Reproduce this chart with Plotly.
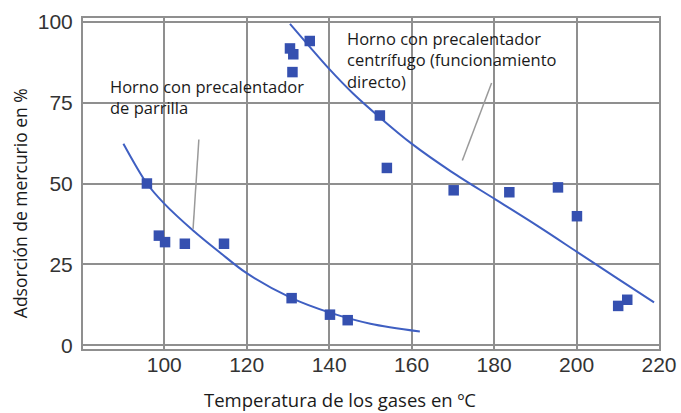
import plotly.graph_objects as go

# Measured points: kiln with grate preheater
parrilla_temp = [95.8, 98.7, 100.2, 105.0, 114.5, 130.9, 140.2, 144.5]
parrilla_ads = [50.0, 33.9, 31.9, 31.4, 31.4, 14.6, 9.5, 7.8]

# Trend curve for the grate-preheater kiln
parrilla_fit_temp = [90.1, 95.8, 100.0, 107.0, 113.5, 120.0, 130.9, 140.0, 150.0, 162.0]
parrilla_fit_ads = [62.3, 50.0, 43.8, 35.5, 28.7, 22.3, 14.6, 10.2, 6.7, 4.3]

# Measured points: kiln with centrifugal preheater (direct operation)
centrifugo_temp = [130.5, 131.3, 131.1, 135.3, 152.3, 154.0, 170.2, 183.7, 195.5, 200.1, 210.1, 212.3]
centrifugo_ads = [91.7, 89.9, 84.4, 94.0, 71.0, 54.8, 47.9, 47.3, 48.8, 39.9, 12.2, 14.1]

# Trend curve for the centrifugal-preheater kiln
centrifugo_fit_temp = [130.5, 135.3, 140.0, 145.8, 152.3, 160.0, 169.7, 180.3, 190.9, 200.1, 209.5, 218.8]
centrifugo_fit_ads = [99.3, 92.2, 85.4, 77.8, 70.4, 62.3, 53.6, 45.1, 36.6, 28.9, 21.0, 13.3]

x_ticks = [100, 120, 140, 160, 180, 200, 220]
y_ticks = [0, 25, 50, 75, 100]

label_parrilla = "Horno con precalentador<br>de parrilla"
label_centrifugo = "Horno con precalentador<br>centrífugo (funcionamiento<br>directo)"
x_title = "Temperatura de los gases en ºC"
y_title = "Adsorción de mercurio en %"

LINE_BLUE = "#3f5fc2"
MARK_BLUE = "#3550b0"
GRID = "#8f8f8f"
TEXT_FONT = "Open Sans"
TICK_FONT = "Liberation Sans, Arial"

fig = go.Figure()

for xs, ys in [(parrilla_fit_temp, parrilla_fit_ads), (centrifugo_fit_temp, centrifugo_fit_ads)]:
    fig.add_trace(go.Scatter(
        x=xs, y=ys, mode="lines",
        line=dict(color=LINE_BLUE, width=2, shape="spline", smoothing=0.9),
        hoverinfo="skip", showlegend=False,
    ))

for xs, ys in [(parrilla_temp, parrilla_ads), (centrifugo_temp, centrifugo_ads)]:
    fig.add_trace(go.Scatter(
        x=xs, y=ys, mode="markers",
        marker=dict(symbol="square", size=10.5, color=MARK_BLUE,
                    line=dict(width=0)),
        showlegend=False,
    ))

# white panels behind the curve labels: they hide the grid but not the data
label_panels = [(0.042, 0.668, 0.311, 0.843), (0.447, 0.801, 0.885, 0.976)]
for px0, py0, px1, py1 in label_panels:
    fig.add_shape(type="rect", xref="paper", yref="paper",
                  x0=px0, y0=py0, x1=px1, y1=py1,
                  fillcolor="white", line=dict(width=0), layer="between")

# thin grey leader lines from the labels to the curves
leaders = [((108.4, 63.6), (107.0, 36.0)), ((179.4, 81.0), (172.3, 57.1))]
for (x0, y0), (x1, y1) in leaders:
    fig.add_shape(type="line", xref="x", yref="y", x0=x0, y0=y0, x1=x1, y1=y1,
                  line=dict(color="#9a9a9a", width=1.5), layer="above")

# curve labels
fig.add_annotation(
    x=0.044, y=0.760, xref="paper", yref="paper", xanchor="left", yanchor="middle",
    text=label_parrilla, showarrow=False, align="left",
    font=dict(family=TEXT_FONT, size=16.5, color="#1a1a1a"),
)
fig.add_annotation(
    x=0.455, y=0.979, xref="paper", yref="paper", xanchor="left", yanchor="top",
    text=label_centrifugo, showarrow=False, align="left",
    font=dict(family=TEXT_FONT, size=16.5, color="#1a1a1a"),
)

# axis titles
fig.add_annotation(
    x=0.447, y=-0.154, xref="paper", yref="paper", xanchor="center", yanchor="middle",
    text=x_title, showarrow=False,
    font=dict(family=TEXT_FONT, size=18.5, color="#1a1a1a"),
)
fig.add_annotation(
    x=-0.108, y=0.44, xref="paper", yref="paper", xanchor="center", yanchor="middle",
    text=y_title, showarrow=False, textangle=-90,
    font=dict(family=TEXT_FONT, size=17.5, color="#1a1a1a"),
)

axis_common = dict(
    showgrid=True, gridcolor=GRID, gridwidth=2,
    showline=True, linecolor=GRID, linewidth=2, mirror=True,
    zeroline=False, ticks="", automargin=False,
    tickfont=dict(family=TICK_FONT, size=21, color="#333333"),
)

fig.update_xaxes(range=[80.3, 220], tickvals=x_ticks, ticklabelstandoff=-4, **axis_common)
fig.update_yaxes(range=[-1.1, 101.1], tickvals=y_ticks, ticklabelstandoff=4, **axis_common)

fig.update_layout(
    width=681, height=413,
    margin=dict(l=83, r=22, t=18, b=64),
    paper_bgcolor="white", plot_bgcolor="white",
)

fig.write_html("out.html")
